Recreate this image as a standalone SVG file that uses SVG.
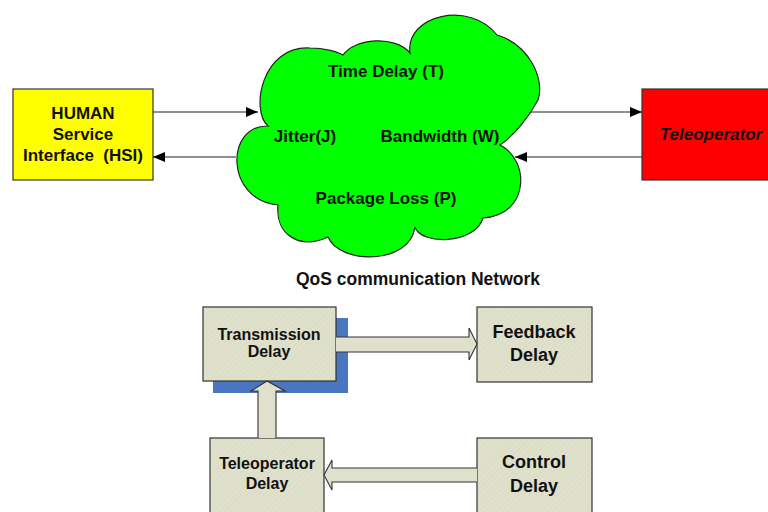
<svg xmlns="http://www.w3.org/2000/svg" width="768" height="512" viewBox="0 0 768 512">
<defs>
<style>
text{font-family:"Liberation Sans",Arial,sans-serif;font-weight:bold;fill:#111;text-anchor:middle}
.t17{font-size:17px}
.t16{font-size:16px}
.t18{font-size:18px}
.line{stroke:#222;stroke-width:1.2;fill:none}
.beige{fill:url(#hatch);stroke:#333;stroke-width:1.2}
.barrow{fill:#DFE1CC;stroke:#333;stroke-width:1.1;stroke-linejoin:miter}
</style>
<pattern id="hatch" patternUnits="userSpaceOnUse" width="4" height="4" patternTransform="rotate(45)">
<rect width="4" height="4" fill="#DFE1CC"/>
<line x1="0" y1="0" x2="0" y2="4" stroke="#D3D6BC" stroke-width="1"/>
</pattern>
<marker id="ah" viewBox="0 0 12 10" refX="12" refY="5" markerWidth="12" markerHeight="10" markerUnits="userSpaceOnUse" orient="auto">
<path d="M0,0 L12,5 L0,10 Z" fill="#000"/>
</marker>
</defs>
<rect width="768" height="512" fill="#fff"/>

<g id="cloud">
<path d="M268,126 C250,110 262,45 310,48 C325,48 338,52 343,55 C355,38 395,35 410,53 C405,15 470,0 497,35 C530,45 545,80 538,100 C530,115 515,135 500,145 C530,160 530,215 483,218 C475,245 420,245 415,227 C410,265 340,265 328,237 C300,250 275,235 278,205 C225,200 225,125 268,126 Z" fill="#00FF00" stroke="#222" stroke-width="1.2"/>
<text class="t17" x="386" y="77">Time Delay (T)</text>
<text class="t17" x="305" y="142">Jitter(J)</text>
<text class="t17" x="440" y="142">Bandwidth (W)</text>
<text class="t17" x="386" y="204">Package Loss (P)</text>
</g>

<g id="hsi">
<rect x="13" y="89" width="140" height="91" fill="#FFFF00" stroke="#333" stroke-width="1.2"/>
<text class="t17" x="83" y="119">HUMAN</text>
<text class="t17" x="83" y="140">Service</text>
<text class="t17" x="83" y="161" xml:space="preserve">Interface  (HSI)</text>
</g>

<g id="teleoperator">
<rect x="642" y="89" width="140" height="91" fill="#FF0000" stroke="#333" stroke-width="1.2"/>
<text class="t17" x="711" y="140" font-style="italic">Teleoperator</text>
</g>

<text class="t17" x="418" y="285" style="font-size:17.5px">QoS communication Network</text>

<g id="transmission">
<rect x="213" y="318" width="135" height="75" fill="#4A76C0"/>
<rect class="beige" x="203" y="307" width="133" height="74"/>
<text class="t16" x="269" y="340">Transmission</text>
<text class="t16" x="269" y="357">Delay</text>
</g>

<g id="feedback">
<rect class="beige" x="477" y="307" width="115" height="75"/>
<text class="t18" x="534" y="338">Feedback</text>
<text class="t18" x="534" y="361">Delay</text>
</g>

<g id="teleop-delay">
<rect class="beige" x="210" y="438" width="114" height="80"/>
<text class="t16" x="267" y="469">Teleoperator</text>
<text class="t16" x="267" y="489">Delay</text>
</g>

<g id="control">
<rect class="beige" x="477" y="438" width="115" height="80"/>
<text class="t18" x="534" y="468">Control</text>
<text class="t18" x="534" y="492">Delay</text>
</g>

<g id="connectors">
<line class="line" x1="153" y1="112" x2="258" y2="112" marker-end="url(#ah)"/>
<line class="line" x1="236" y1="157" x2="153" y2="157" marker-end="url(#ah)"/>
<line class="line" x1="530" y1="112" x2="642" y2="112" marker-end="url(#ah)"/>
<line class="line" x1="642" y1="157" x2="515" y2="157" marker-end="url(#ah)"/>
<path class="barrow" d="M336,337 L469,337 L469,328 L477,344 L469,360 L469,352 L336,352"/>
<path class="barrow" d="M258,438 L258,391 L251,391 L267,381 L285,391 L276,391 L276,438"/>
<path class="barrow" d="M477,468 L332,468 L332,460 L324,475 L332,490 L332,482 L477,482"/>
</g>
</svg>
